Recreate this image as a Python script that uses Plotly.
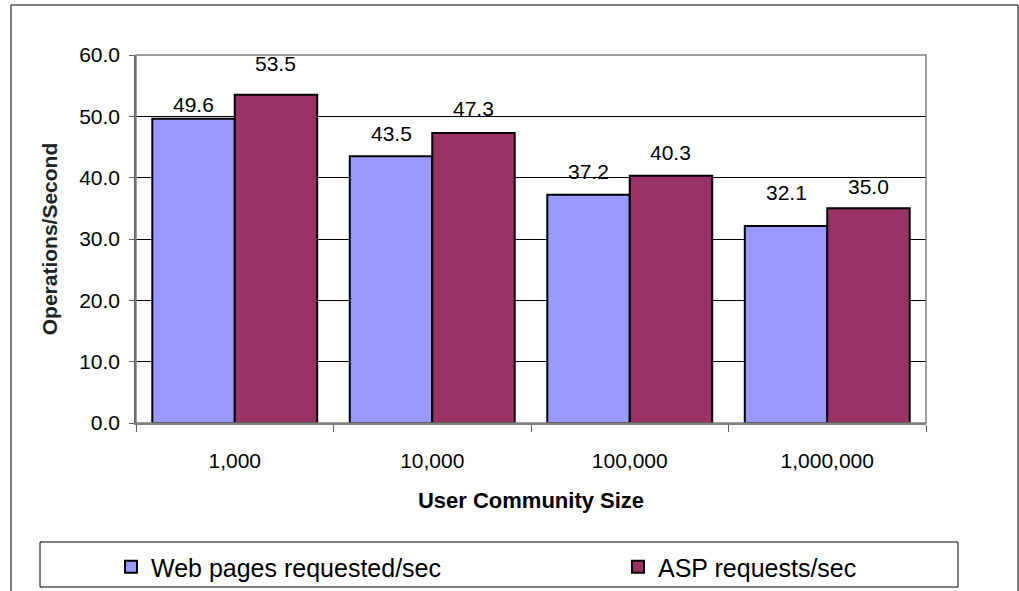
import plotly.graph_objects as go

# Chart data
community_sizes = ["1,000", "10,000", "100,000", "1,000,000"]
web_pages_per_sec = [49.6, 43.5, 37.2, 32.1]
asp_requests_per_sec = [53.5, 47.3, 40.3, 35.0]
series_names = ["Web pages requested/sec", "ASP requests/sec"]

# Vertical lift (px) of each value label above its bar
web_label_lift = [14, 23, 23, 34]
asp_label_lift = [31, 24, 23, 22]

W, H = 1019, 591
ML, MR, MT, MB = 136, 93, 55, 168
PW, PH = W - ML - MR, H - MT - MB


def px_x(v):
    return (v - ML) / PW


def px_y(v):
    return (H - MB - v) / PH


FONT = "Liberation Sans, Arial, sans-serif"
BLUE = "#9999FF"
MAROON = "#993366"

fig = go.Figure()
fig.add_trace(go.Bar(
    x=community_sizes, y=web_pages_per_sec, name=series_names[0],
    marker=dict(color=BLUE, line=dict(color="black", width=2)),
    legend="legend", showlegend=True,
))
fig.add_trace(go.Bar(
    x=community_sizes, y=asp_requests_per_sec, name=series_names[1],
    marker=dict(color=MAROON, line=dict(color="black", width=2)),
    legend="legend2", showlegend=True,
))

# Value labels above each bar
bar_half = PW / len(community_sizes) * (1 - 0.165) / 4
annotations = []
for vals, lifts, shift in ((web_pages_per_sec, web_label_lift, -bar_half),
                           (asp_requests_per_sec, asp_label_lift, bar_half)):
    for cat, v, lift in zip(community_sizes, vals, lifts):
        annotations.append(dict(
            x=cat, y=v, xref="x", yref="y", text=f"{v:.1f}", showarrow=False,
            xshift=shift, yshift=lift, yanchor="middle",
            font=dict(family=FONT, size=21, color="black"),
        ))

shapes = [
    # outer chart frame
    dict(type="rect", xref="paper", yref="paper",
         x0=px_x(11), x1=px_x(1018), y0=px_y(640), y1=px_y(5),
         line=dict(color="black", width=1), layer="below"),
    # plot area frame
    dict(type="rect", xref="paper", yref="paper", x0=0, x1=1, y0=0, y1=1,
         line=dict(color="#808080", width=1.5), layer="above"),
    # legend box
    dict(type="rect", xref="paper", yref="paper",
         x0=px_x(40), x1=px_x(958), y0=px_y(587), y1=px_y(542),
         line=dict(color="black", width=1), layer="below"),
]

legend_style = dict(
    orientation="h", xanchor="left", y=px_y(567), yanchor="middle",
    font=dict(family=FONT, size=25, color="black"),
    bgcolor="rgba(0,0,0,0)", borderwidth=0, visible=True,
)

fig.update_layout(
    width=W, height=H,
    margin=dict(l=ML, r=MR, t=MT, b=MB, autoexpand=False),
    paper_bgcolor="white", plot_bgcolor="white",
    showlegend=True,
    barmode="group", bargap=0.165, bargroupgap=0,
    font=dict(family=FONT, size=21, color="black"),
    annotations=annotations,
    shapes=shapes,
    legend=dict(x=px_x(111), **legend_style),
    legend2=dict(x=px_x(618), **legend_style),
    xaxis=dict(
        showgrid=False, showline=True, linecolor="#808080", linewidth=1.5,
        ticks="outside", tickson="boundaries", ticklen=7, tickcolor="#606060",
        ticklabelstandoff=18,
        tickfont=dict(family=FONT, size=21),
        title=dict(text="<b>User Community Size</b>", standoff=22,
                   font=dict(family=FONT, size=22)),
    ),
    yaxis=dict(
        range=[0, 60], dtick=10, tickformat=".1f",
        showgrid=True, gridcolor="black", gridwidth=1,
        showline=True, linecolor="#606060", linewidth=1.5,
        ticks="outside", ticklen=5, tickcolor="#606060",
        ticklabelstandoff=5,
        tickfont=dict(family=FONT, size=21),
        zeroline=False,
        title=dict(text="<b>Operations/Second</b>", standoff=16,
                   font=dict(family=FONT, size=21, color="#222222")),
    ),
)

fig.write_html("out.html")
